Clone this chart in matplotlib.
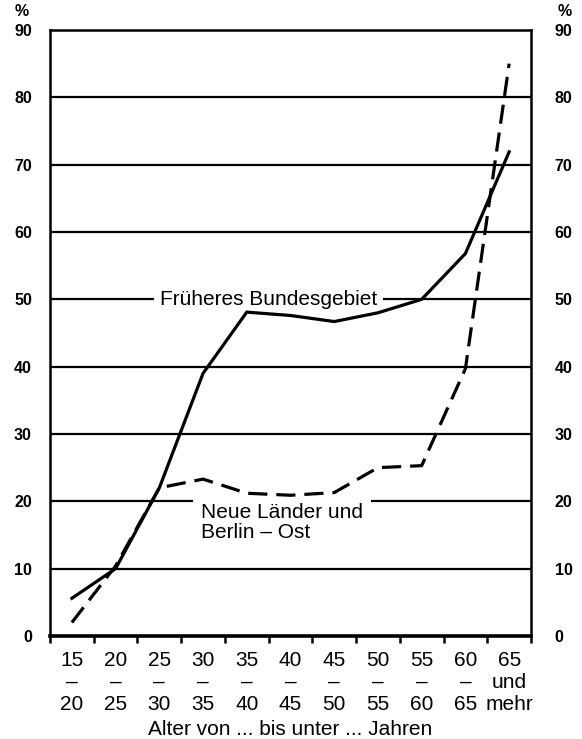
import numpy as np
import matplotlib.pyplot as plt

plt.rcParams['font.family'] = ['Liberation Sans', 'DejaVu Sans']

# age groups (labels under the x axis)
gruppen = ["15\n–\n20", "20\n–\n25", "25\n–\n30", "30\n–\n35", "35\n–\n40",
           "40\n–\n45", "45\n–\n50", "50\n–\n55", "55\n–\n60", "60\n–\n65",
           "65\nund\nmehr"]

# values in %
frueheres_bg = [5.6, 10.0, 22.0, 39.0, 48.1, 47.6, 46.7, 48.0, 50.0, 56.8, 71.9]
neue_laender = [2.0, 10.4, 22.0, 23.3, 21.2, 20.9, 21.3, 25.0, 25.3, 39.7, 85.0]

y_ticks = np.arange(0, 91, 10)

fig = plt.figure(figsize=(5.82, 7.39), dpi=100)
ax = fig.add_axes([0.0859, 0.1394, 0.8265, 0.82])

x = np.arange(len(gruppen)) + 0.5

# grid lines
for v in y_ticks[1:-1]:
    ax.axhline(v, color='black', lw=1.6, zorder=1)

ax.plot(x, frueheres_bg, color='black', lw=2.3, solid_joinstyle='miter', zorder=4)
ax.plot(x, neue_laender, color='black', lw=2.3, dashes=(6, 2.8), zorder=4)

ax.set_xlim(0, len(gruppen))
ax.set_ylim(0, 90)

# labels for the two lines, white box hides the grid line behind
ax.text(5.0, 50, "Früheres Bundesgebiet", ha='center', va='center', fontsize=15,
        bbox=dict(facecolor='white', edgecolor='none', pad=4), zorder=3)
ax.text(3.45, 19.8, "Neue Länder und\nBerlin – Ost", ha='left', va='top', fontsize=15,
        linespacing=1.12,
        bbox=dict(facecolor='white', edgecolor='none', pad=6), zorder=3)

for s in ax.spines.values():
    s.set_linewidth(1.8)
ax.spines['bottom'].set_linewidth(2.6)

# x axis: ticks at group borders, labels at centers
ax.set_xticks(np.arange(len(gruppen) + 1))
ax.set_xticklabels([])
ax.set_xticks(x, minor=True)
ax.set_xticklabels(gruppen, minor=True, fontsize=15, linespacing=1.19)
ax.tick_params(axis='x', which='major', length=5, width=1.8, direction='out')
ax.tick_params(axis='x', which='minor', length=0, pad=11)
ax.set_xlabel("Alter von ... bis unter ... Jahren", fontsize=15, labelpad=4)

# y axis on both sides
ax.set_yticks(y_ticks)
ax.set_yticklabels([str(v) for v in y_ticks], fontsize=11.5, fontweight='bold')
ax.tick_params(axis='y', length=0, pad=13)

ax2 = ax.twinx()
ax2.set_ylim(0, 90)
ax2.set_yticks(y_ticks)
ax2.set_yticklabels([str(v) for v in y_ticks], fontsize=11.5, fontweight='bold')
ax2.tick_params(axis='y', length=0, pad=17)
for s in ax2.spines.values():
    s.set_visible(False)

fig.text(22 / 582, 1 - 12 / 739, "%", ha='center', va='center', fontsize=11.5, fontweight='bold')
fig.text(565 / 582, 1 - 12 / 739, "%", ha='center', va='center', fontsize=11.5, fontweight='bold')

fig.savefig("out.png", dpi=100)
